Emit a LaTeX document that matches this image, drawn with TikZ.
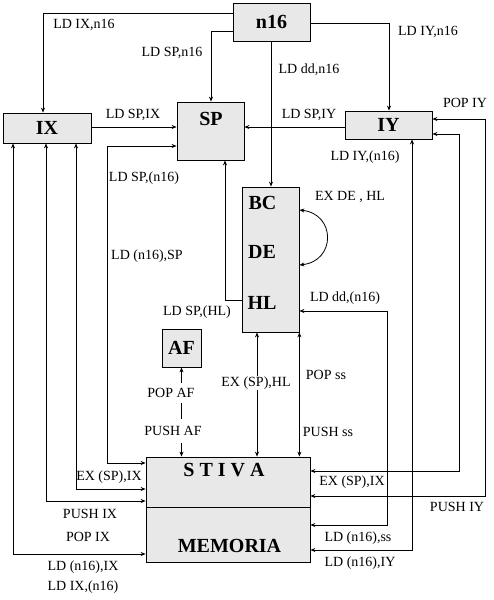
\documentclass[tikz,border=0pt]{standalone}
\usepackage{fontspec}
\setmainfont{Liberation Serif}
\usetikzlibrary{arrows.meta,calc}
\definecolor{boxgray}{RGB}{232,232,232}
\begin{document}
\begin{tikzpicture}[x=1pt,y=-1pt,
  box/.style={draw, fill=boxgray, line width=0.8pt, inner sep=0pt, font=\fontsize{20}{22}\selectfont\bfseries},
  con/.style={line width=0.8pt, -{Stealth[length=5pt,width=4pt]}},
  both/.style={line width=0.8pt, {Stealth[length=5pt,width=4pt]}-{Stealth[length=5pt,width=4pt]}},
  lab/.style={font=\fontsize{14}{16}\selectfont, inner sep=1pt},
  wlab/.style={lab, fill=white},
  big/.style={font=\fontsize{20}{22}\selectfont\bfseries, inner sep=0pt}]
\useasboundingbox[fill=white] (0,0) rectangle (494,600);

% boxes
\node[box, minimum width=77, minimum height=38] (n16) at (271.5,22) {n16};
\node[box, minimum width=88, minimum height=30] (ix) at (47,128) {IX};
\node[box, minimum width=67, minimum height=58] (sp) at (210.5,131) {};
\node[big] (sptext) at (211,119) {SP};
\node[box, minimum width=87, minimum height=28] (iy) at (388.5,125) {IY};
\node[box, minimum width=57, minimum height=145] (regs) at (270.5,259.5) {};
\node[big] (bc) at (262.5,203) {BC};
\node[big] (de) at (262,252) {DE};
\node[big] (hl) at (262,303) {HL};
\node[box, minimum width=39, minimum height=38] (af) at (181.5,348) {AF};
\node[box, minimum width=164, minimum height=105] (mem) at (228,509.5) {};
\coordinate (dv) at (0,507);
\draw[line width=0.8pt] (mem.west |- dv) -- (mem.east |- dv);
\node[big] (stiva) at (224,470) {S T I V A};
\node[big] (memoria) at (229.5,546) {MEMORIA};

% n16 connectors
\coordinate (c1) at (43,13);
\draw[con] (n16.west |- c1) -| (c1 |- ix.north);
\node[lab] (l1) at (84,25) {LD IX,n16};
\coordinate (c2) at (211,31);
\draw[con] (n16.west |- c2) -| (c2 |- sp.north);
\node[lab] (l2) at (172,53) {LD SP,n16};
\coordinate (c3) at (389,23);
\draw[con] (n16.east |- c3) -| (c3 |- iy.north);
\node[lab] (l3) at (428,32) {LD IY,n16};
\coordinate (c4) at (271,0);
\draw[con] (c4 |- n16.south) -- (c4 |- regs.north);
\node[lab] (l4) at (309,70) {LD dd,n16};

% into SP
\coordinate (c5) at (0,127);
\draw[con] (ix.east |- c5) -- (sp.west |- c5);
\node[lab] (l5) at (133,115) {LD SP,IX};
\draw[con] (iy.west |- c5) -- (sp.east |- c5);
\node[lab] (l6) at (309,115) {LD SP,IY};
\coordinate (c7a) at (107,146);
\coordinate (c7b) at (107,463);
\draw[both] (sp.west |- c7a) -| (c7b) -- (mem.west |- c7b);
\node[lab] (l7a) at (144,178) {LD SP,(n16)};
\node[lab] (l7b) at (147,256) {LD (n16),SP};
\coordinate (c11) at (225,300);
\draw[con] (regs.west |- c11) -| (c11 |- sp.south);
\node[lab] (l11) at (197,312) {LD SP,(HL)};

% IX <-> stack
\coordinate (c8a) at (76,489);
\draw[both] (c8a |- ix.south) |- (mem.west |- c8a);
\node[lab] (l8a) at (109,477) {EX (SP),IX};
\coordinate (c8b) at (46,501);
\draw[both] (c8b |- ix.south) |- (mem.west |- c8b);
\node[lab] (l8b) at (90,514) {PUSH IX};
\coordinate (c8c) at (13,554);
\draw[both] (c8c |- ix.south) |- (mem.west |- c8c);
\node[lab] (l8c) at (88,537) {POP IX};
\node[lab] (l8d) at (83,567) {LD (n16),IX};
\node[lab] (l8e) at (83,587) {LD IX,(n16)};

% AF
\draw[both] (af.south) -- (af.south |- mem.north);
\node[wlab, inner ysep=5pt] (l9a) at (171,393) {POP AF};
\node[wlab, inner ysep=7pt] (l9b) at (173,431) {PUSH AF};

% regs <-> stack
\coordinate (c10) at (257,0);
\draw[both] (c10 |- regs.south) -- (c10 |- mem.north);
\node[wlab] (l10) at (256,383) {EX (SP),HL};
\draw[both] (regs.south east) -- (regs.south east |- mem.north);
\node[lab] (l10b) at (326,375) {POP ss};
\node[lab] (l10c) at (328,432) {PUSH ss};

% EX DE,HL
\coordinate (c12a) at (299,210);
\coordinate (c12b) at (299,265);
\draw[both] (regs.east |- c12a) .. controls (336,214) and (336,261) .. (regs.east |- c12b);
\node[lab] (l12) at (350,197) {EX DE , HL};

% LD dd,(n16)
\coordinate (c13a) at (387,525);
\coordinate (c13b) at (387,311);
\draw[both] (mem.east |- c13a) -| (c13b) -- (regs.east |- c13b);
\node[lab] (l13a) at (345,298) {LD dd,(n16)};
\node[lab] (l13b) at (358,538) {LD (n16),ss};

% IY <-> stack
\coordinate (c14a) at (412,550);
\draw[both] (c14a |- iy.south) |- (mem.east |- c14a);
\node[lab] (l14a) at (365,157) {LD IY,(n16)};
\node[lab] (l14b) at (360,563) {LD (n16),IY};
\coordinate (c14b) at (459,134);
\coordinate (c14bb) at (459,471);
\draw[both] (iy.east |- c14b) -| (c14bb) -- (mem.east |- c14bb);
\node[lab] (l14c) at (352,482) {EX (SP),IX};
\coordinate (c14c) at (485,119);
\coordinate (c14cc) at (485,496);
\draw[both] (iy.east |- c14c) -| (c14cc) -- (mem.east |- c14cc);
\node[lab] (l14d) at (465,103) {POP IY};
\node[lab] (l14e) at (457,507) {PUSH IY};
\end{tikzpicture}
\end{document}
